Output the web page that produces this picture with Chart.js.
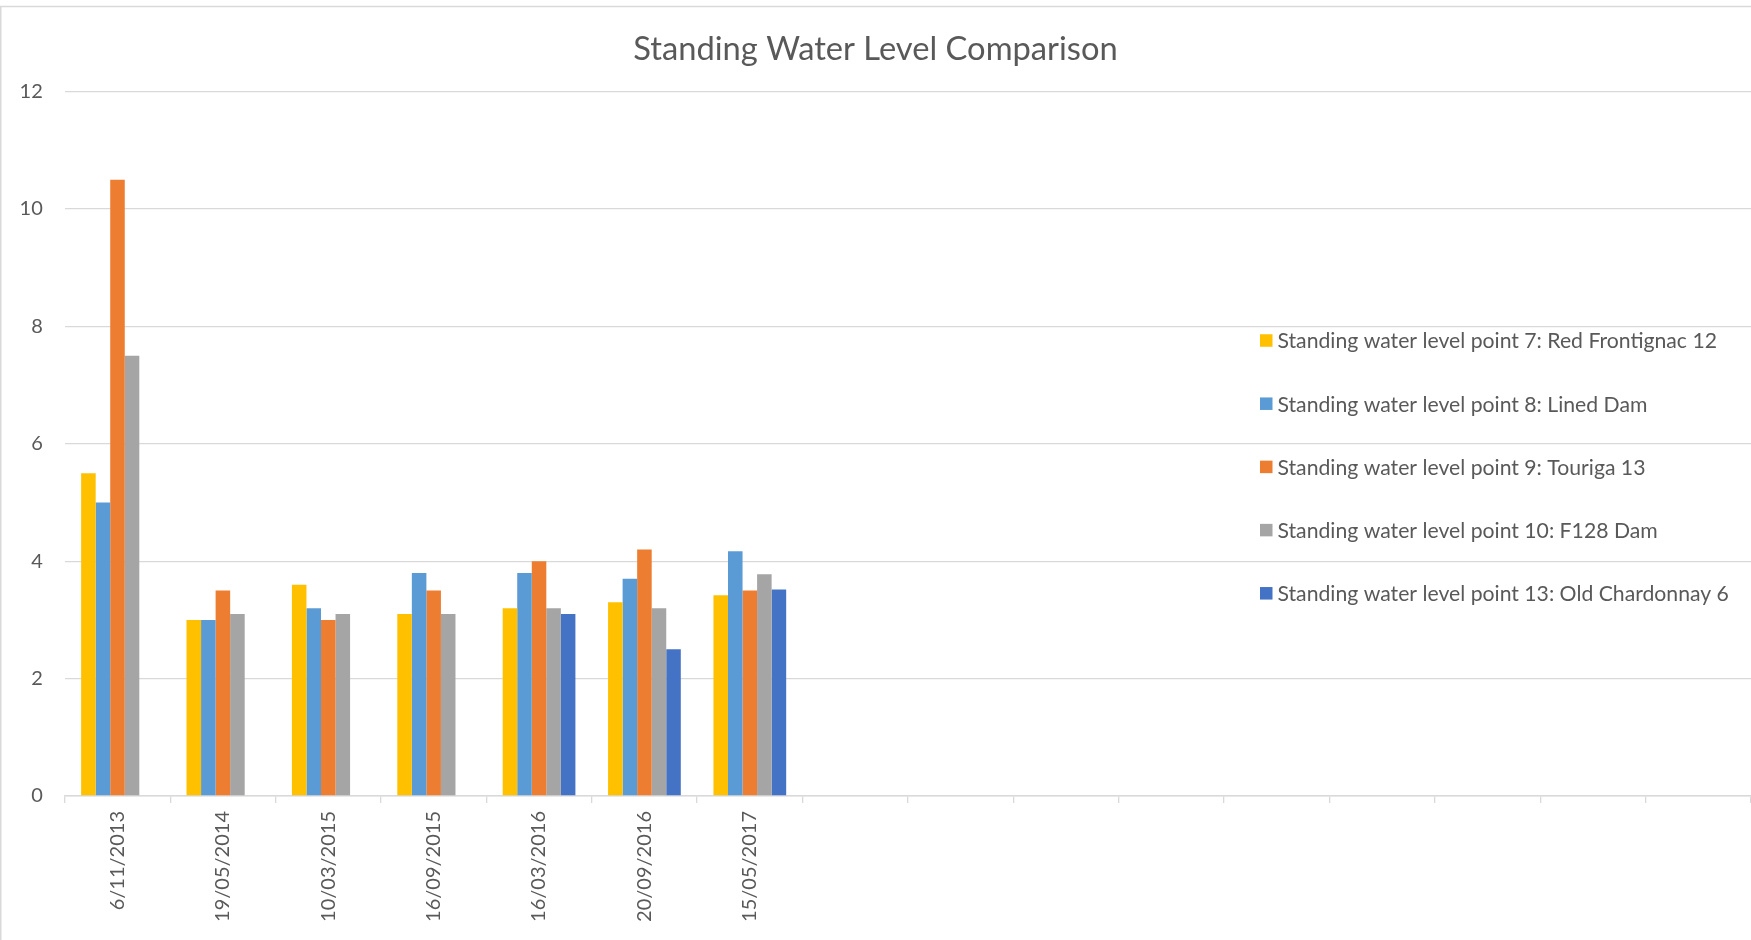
<!DOCTYPE html>
<html>
<head>
<meta charset="utf-8">
<title>Standing Water Level Comparison</title>
<script src="https://cdn.jsdelivr.net/npm/chart.js@4.4.1/dist/chart.umd.min.js"></script>
<style>
  html, body { margin: 0; padding: 0; background: #fff; }
  #wrap { width: 1751px; height: 940px; position: relative; }
</style>
</head>
<body>
<div id="wrap"><canvas id="chart" width="1751" height="940"></canvas></div>
<script>
// sampling dates (the axis keeps 9 empty slots after the last date)
const dates = ['6/11/2013', '19/05/2014', '10/03/2015', '16/09/2015', '16/03/2016', '20/09/2016', '15/05/2017',
  '', '', '', '', '', '', '', '', ''];

// standing water level per monitoring point
const point7 = [5.5, 3.0, 3.6, 3.1, 3.2, 3.3, 3.42];
const point8 = [5.0, 3.0, 3.2, 3.8, 3.8, 3.7, 4.17];
const point9 = [10.5, 3.5, 3.0, 3.5, 4.0, 4.2, 3.5];
const point10 = [7.5, 3.1, 3.1, 3.1, 3.2, 3.2, 3.78];
const point13 = [null, null, null, null, 3.1, 2.5, 3.52];

const seriesNames = [
  'Standing water level point 7: Red Frontignac 12',
  'Standing water level point 8: Lined Dam',
  'Standing water level point 9: Touriga 13',
  'Standing water level point 10: F128 Dam',
  'Standing water level point 13: Old Chardonnay 6'
];
const seriesColors = ['#FFC000', '#5B9BD5', '#ED7D31', '#A5A5A5', '#4472C4'];
const yTicks = [0, 2, 4, 6, 8, 10, 12];

const textColor = '#595959';
const gridColor = '#D9D9D9';
const fontFamily = 'Lato, "Open Sans", sans-serif';

// frame around the whole chart
const framePlugin = {
  id: 'frame',
  beforeDraw(chart) {
    const ctx = chart.ctx;
    ctx.save();
    ctx.fillStyle = '#fff';
    ctx.fillRect(0, 0, chart.width, chart.height);
    ctx.strokeStyle = gridColor;
    ctx.lineWidth = 1.5;
    ctx.beginPath();
    ctx.moveTo(0, 6.5);
    ctx.lineTo(chart.width, 6.5);
    ctx.moveTo(0.75, 6.5);
    ctx.lineTo(0.75, chart.height);
    ctx.stroke();
    ctx.restore();
  }
};

// legend sits over the plot on the right, like the spreadsheet version
const legendLayout = { x: 1260, y: 340.5, step: 63.2, box: 12.5, gap: 5, size: 21.2 };
const overlayLegend = {
  id: 'overlayLegend',
  afterDraw(chart) {
    const ctx = chart.ctx;
    ctx.save();
    ctx.font = legendLayout.size + 'px ' + fontFamily;
    ctx.textBaseline = 'middle';
    ctx.textAlign = 'left';
    chart.data.datasets.forEach((ds, i) => {
      const y = legendLayout.y + i * legendLayout.step;
      ctx.fillStyle = ds.backgroundColor;
      ctx.fillRect(legendLayout.x, y - legendLayout.box / 2, legendLayout.box, legendLayout.box);
      ctx.fillStyle = textColor;
      ctx.fillText(ds.label, legendLayout.x + legendLayout.box + legendLayout.gap, y + 1);
    });
    ctx.restore();
  }
};

const seriesValues = [point7, point8, point9, point10, point13];

new Chart(document.getElementById('chart'), {
  type: 'bar',
  data: {
    labels: dates,
    datasets: seriesValues.map((vals, i) => ({
      label: seriesNames[i],
      data: vals,
      backgroundColor: seriesColors[i],
      borderWidth: 0,
      categoryPercentage: 0.69,
      barPercentage: 1.0
    }))
  },
  options: {
    responsive: false,
    animation: false,
    devicePixelRatio: 1,
    layout: { padding: 0 },
    plugins: {
      legend: { display: false },
      tooltip: { enabled: false },
      title: {
        display: true,
        text: 'Standing Water Level Comparison',
        color: textColor,
        font: { family: fontFamily, size: 32.7, weight: 'normal' },
        padding: { top: 29.4, bottom: 23 }
      }
    },
    scales: {
      x: {
        offset: true,
        grid: {
          display: true,
          drawOnChartArea: false,
          offset: true,
          tickLength: 7,
          color: gridColor,
          lineWidth: 1.3
        },
        border: { color: gridColor, width: 1.5 },
        ticks: {
          autoSkip: false,
          minRotation: 90,
          maxRotation: 90,
          padding: 8,
          color: textColor,
          font: { family: fontFamily, size: 20 }
        },
        afterFit: s => { s.height = 144; }
      },
      y: {
        min: 0,
        max: 12,
        afterBuildTicks: s => { s.ticks = yTicks.map(v => ({ value: v })); },
        grid: { color: gridColor, lineWidth: 1.3, drawTicks: false },
        border: { display: false },
        ticks: {
          padding: 22,
          color: textColor,
          font: { family: fontFamily, size: 20 }
        },
        afterFit: s => { s.width = 64.8; }
      }
    }
  },
  plugins: [framePlugin, overlayLegend]
});
</script>
</body>
</html>
